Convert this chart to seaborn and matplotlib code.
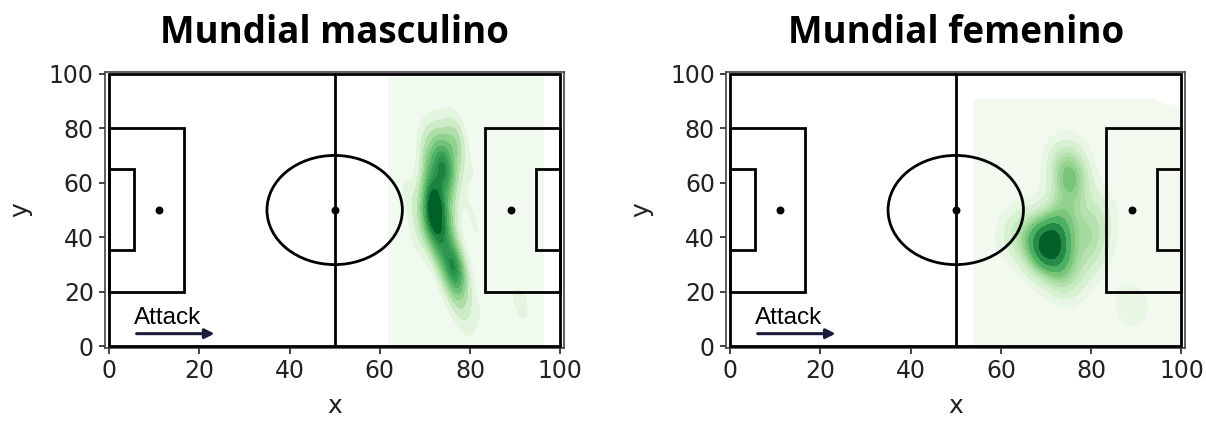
import numpy as np
import pandas as pd
import seaborn as sns
import matplotlib.pyplot as plt
from matplotlib.patches import Rectangle, Ellipse

# Event locations (pitch coordinates, 0-100 on both axes)
male_x = [72, 75, 77,
          71, 74, 76, 78,
          70, 73, 75, 77,
          71, 73, 74, 76, 78,
          70, 72, 74, 75, 77,
          71, 73, 74, 75, 76,
          70, 72, 73, 75, 77,
          71, 72, 74, 76,
          69, 71, 72, 73, 75,
          70, 71, 72, 73, 74, 76,
          69, 71, 72, 73, 74, 75,
          70, 71, 72, 73, 75,
          69, 71, 72, 74, 76,
          70, 72, 73, 75,
          71, 73, 74, 76,
          72, 74, 75, 77,
          73, 75, 76, 78,
          74, 76, 77, 79,
          74, 76, 77, 78,
          75, 77, 79,
          76, 78,
          77, 80,
          78, 83,
          80,
          72, 72, 73, 73, 74, 76, 77,
          67, 66, 80, 81, 82, 68,
          92, 91, 88]
male_y = [80, 80, 80,
          77, 77, 77, 77,
          74, 74, 74, 74,
          71, 71, 71, 71, 71,
          68, 68, 68, 68, 68,
          65, 65, 65, 65, 65,
          62, 62, 62, 62, 62,
          59, 59, 59, 59,
          56, 56, 56, 56, 56,
          53, 53, 53, 53, 53, 53,
          50, 50, 50, 50, 50, 50,
          47, 47, 47, 47, 47,
          44, 44, 44, 44, 44,
          41, 41, 41, 41,
          38, 38, 38, 38,
          35, 35, 35, 35,
          32, 32, 32, 32,
          29, 29, 29, 29,
          26, 26, 26, 26,
          23, 23, 23,
          20, 20,
          16, 16,
          12, 12,
          8,
          48, 50, 46, 66, 64, 28, 30,
          50, 58, 50, 62, 40, 38,
          17, 14, 22]

female_x = [71, 70, 72, 71, 70, 72, 71, 69, 73, 70, 72, 71,
            68, 67, 69, 73, 74, 66, 68, 74, 72, 76, 75, 73,
            73, 74, 72, 75,
            75, 76, 74, 75, 76, 74, 77, 73, 76,
            80, 80, 80, 82, 81, 79, 82, 78,
            63, 62, 65,
            89, 89, 96]
female_y = [38, 37, 39, 36, 40, 37, 40, 38, 38, 35, 41, 34,
            42, 36, 32, 33, 44, 40, 30, 30, 28, 26, 22, 24,
            48, 50, 46, 53,
            62, 63, 60, 65, 58, 66, 60, 70, 72,
            35, 36, 44, 47, 40, 30, 52, 45,
            42, 38, 48,
            14, 16, 45]

titles = ["Mundial masculino", "Mundial femenino"]
ticks = [0, 20, 40, 60, 80, 100]
arrow_label = "Attack"

data = [pd.DataFrame({"x": male_x, "y": male_y}),
        pd.DataFrame({"x": female_x, "y": female_y})]
kde_clip = [((62, 97), (0, 100)), ((54, 100), (0, 91))]
kde_bw = [0.75, 0.9]

sns.set_theme(style="white")
plt.rcParams["font.family"] = ["DejaVu Sans"]

fig = plt.figure(figsize=(12.06, 4.23), dpi=100)
axes = [fig.add_axes([0.087, 0.177, 0.381, 0.653]),
        fig.add_axes([0.602, 0.177, 0.381, 0.653])]

LW = 2.0


def draw_pitch(ax):
    kw = dict(fill=False, edgecolor="black", linewidth=LW, zorder=5)
    ax.add_patch(Rectangle((0, 0), 100, 100, **kw))
    ax.plot([50, 50], [0, 100], color="black", lw=LW, zorder=5)
    # penalty areas
    ax.add_patch(Rectangle((0, 20), 16.7, 60, **kw))
    ax.add_patch(Rectangle((83.3, 20), 16.7, 60, **kw))
    # goal areas
    ax.add_patch(Rectangle((0, 35.5), 5.5, 29.5, **kw))
    ax.add_patch(Rectangle((94.5, 35.5), 5.5, 29.5, **kw))
    # centre circle and spots
    ax.add_patch(Ellipse((50, 50), 30, 40, **kw))
    ax.scatter([11, 50, 89], [50, 50, 50], s=22, color="black", zorder=6)


for ax, df, title, clip, bw in zip(axes, data, titles, kde_clip, kde_bw):
    sns.kdeplot(data=df, x="x", y="y", fill=True, cmap="Greens", levels=12,
                thresh=0, bw_adjust=bw, clip=clip, gridsize=200,
                ax=ax, zorder=1)
    draw_pitch(ax)
    ax.set_xlim(-0.9, 100.9)
    ax.set_ylim(-0.6, 100.6)
    ax.set_xticks(ticks)
    ax.set_yticks(ticks)
    ax.tick_params(axis="both", direction="out", length=4, width=1.2,
                   labelsize=17, colors="#222222", bottom=True, left=True, pad=4)
    ax.set_xlabel("x", fontsize=18, color="#222222", labelpad=8)
    ax.set_ylabel("y", fontsize=18, color="#222222", labelpad=12)
    for s in ax.spines.values():
        s.set_color("#444444")
        s.set_linewidth(1.2)
    ax.set_title(title, fontsize=26.5, fontweight="bold", family="Open Sans",
                 pad=21, color="black")
    ax.annotate("", xy=(24, 4.7), xytext=(5.5, 4.7),
                arrowprops=dict(arrowstyle="-|>", color="#1b1b3a", lw=2.2,
                                mutation_scale=14), zorder=7)
    ax.text(5.5, 8.3, arrow_label, fontsize=17.5, family="Liberation Sans",
            color="black", zorder=7)

fig.savefig("out.png", dpi=100)
